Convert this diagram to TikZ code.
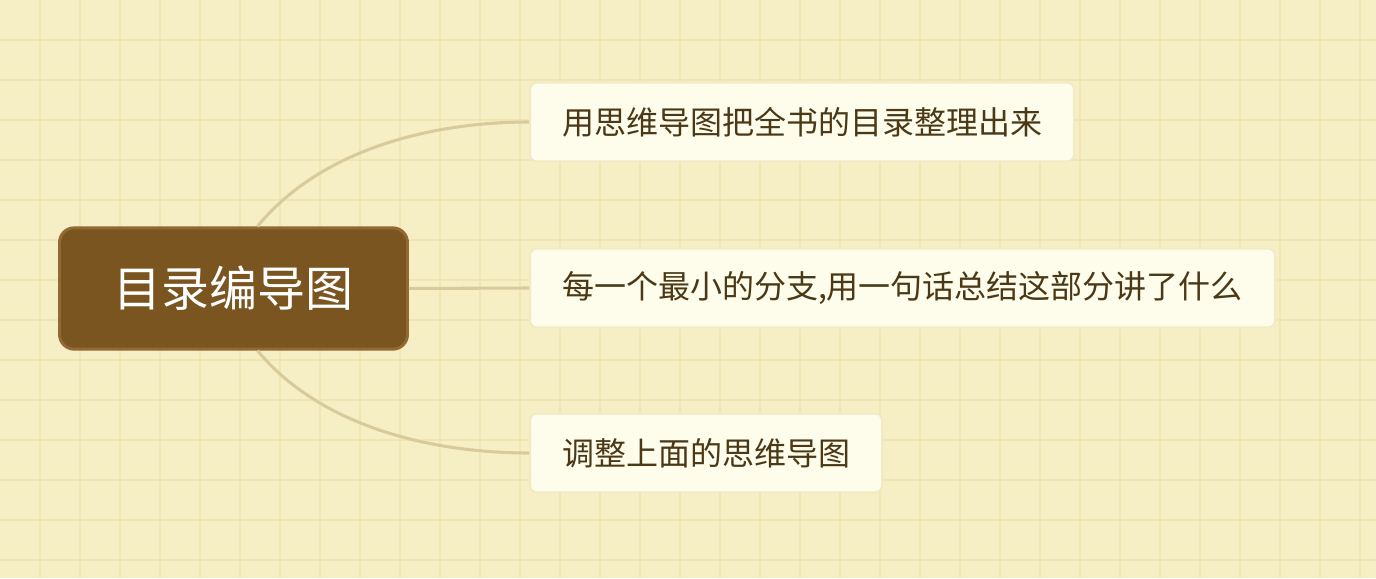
\documentclass[tikz,border=0pt]{standalone}
\usepackage{fontspec}
\newfontfamily\cjk{Noto Sans CJK SC}

\definecolor{paper}{HTML}{F6EFC6}
\definecolor{paperline}{HTML}{F0E6B3}
\definecolor{rootbrown}{HTML}{7B5520}
\definecolor{rootedge}{HTML}{936933}
\definecolor{topicfill}{HTML}{FEFDEC}
\definecolor{topicedge}{HTML}{F1EAC4}
\definecolor{topictext}{HTML}{4A3817}
\definecolor{branch}{HTML}{D9CA9C}

\begin{document}
\begin{tikzpicture}[x=0.75pt, y=-0.75pt]
  % \draw[help lines] (0,0) grid (1376,578);

  \tikzset{root node/.style={rectangle,rounded corners=11pt,draw=rootedge,line width=2.2pt,fill=rootbrown,text=white,font=\cjk\fontsize{36}{40}\selectfont,minimum width=261pt,minimum height=91pt}}
  \tikzset{topic node/.style={rectangle,rounded corners=5pt,draw=topicedge,line width=1.5pt,fill=topicfill,text=topictext,font=\cjk\fontsize{24}{28}\selectfont,inner xsep=24pt,minimum height=59pt,anchor=west}}
  \tikzset{branch line/.style={draw=branch,line width=2.3pt}}

  \useasboundingbox (0,0) rectangle (1376,578);
  \path[fill=paper] (0,0) rectangle (1376,578);
  \foreach \gx in {40,80,...,1360}
    \draw[paperline,line width=1.2pt] (\gx,0) -- (\gx,578);
  \foreach \gy in {40,80,...,560}
    \draw[paperline,line width=1.2pt] (0,\gy) -- (1376,\gy);

  \path
    (233.5, 288.5) node[root node](root) {目录编导图}
    (529, 122) node[topic node](t1) {用思维导图把全书的目录整理出来}
    (529, 288) node[topic node](t2) {每一个最小的分支,用一句话总结这部分讲了什么}
    (529, 453) node[topic node](t3) {调整上面的思维导图}
  ;

  \draw[branch line] ([xshift=18pt]root.north) .. controls (320, 150) and (430, 122) .. (t1.west);
  \draw[branch line] (root.east) -- (t2.west);
  \draw[branch line] ([xshift=18pt]root.south) .. controls (320, 426) and (430, 453) .. (t3.west);

\end{tikzpicture}
\end{document}
